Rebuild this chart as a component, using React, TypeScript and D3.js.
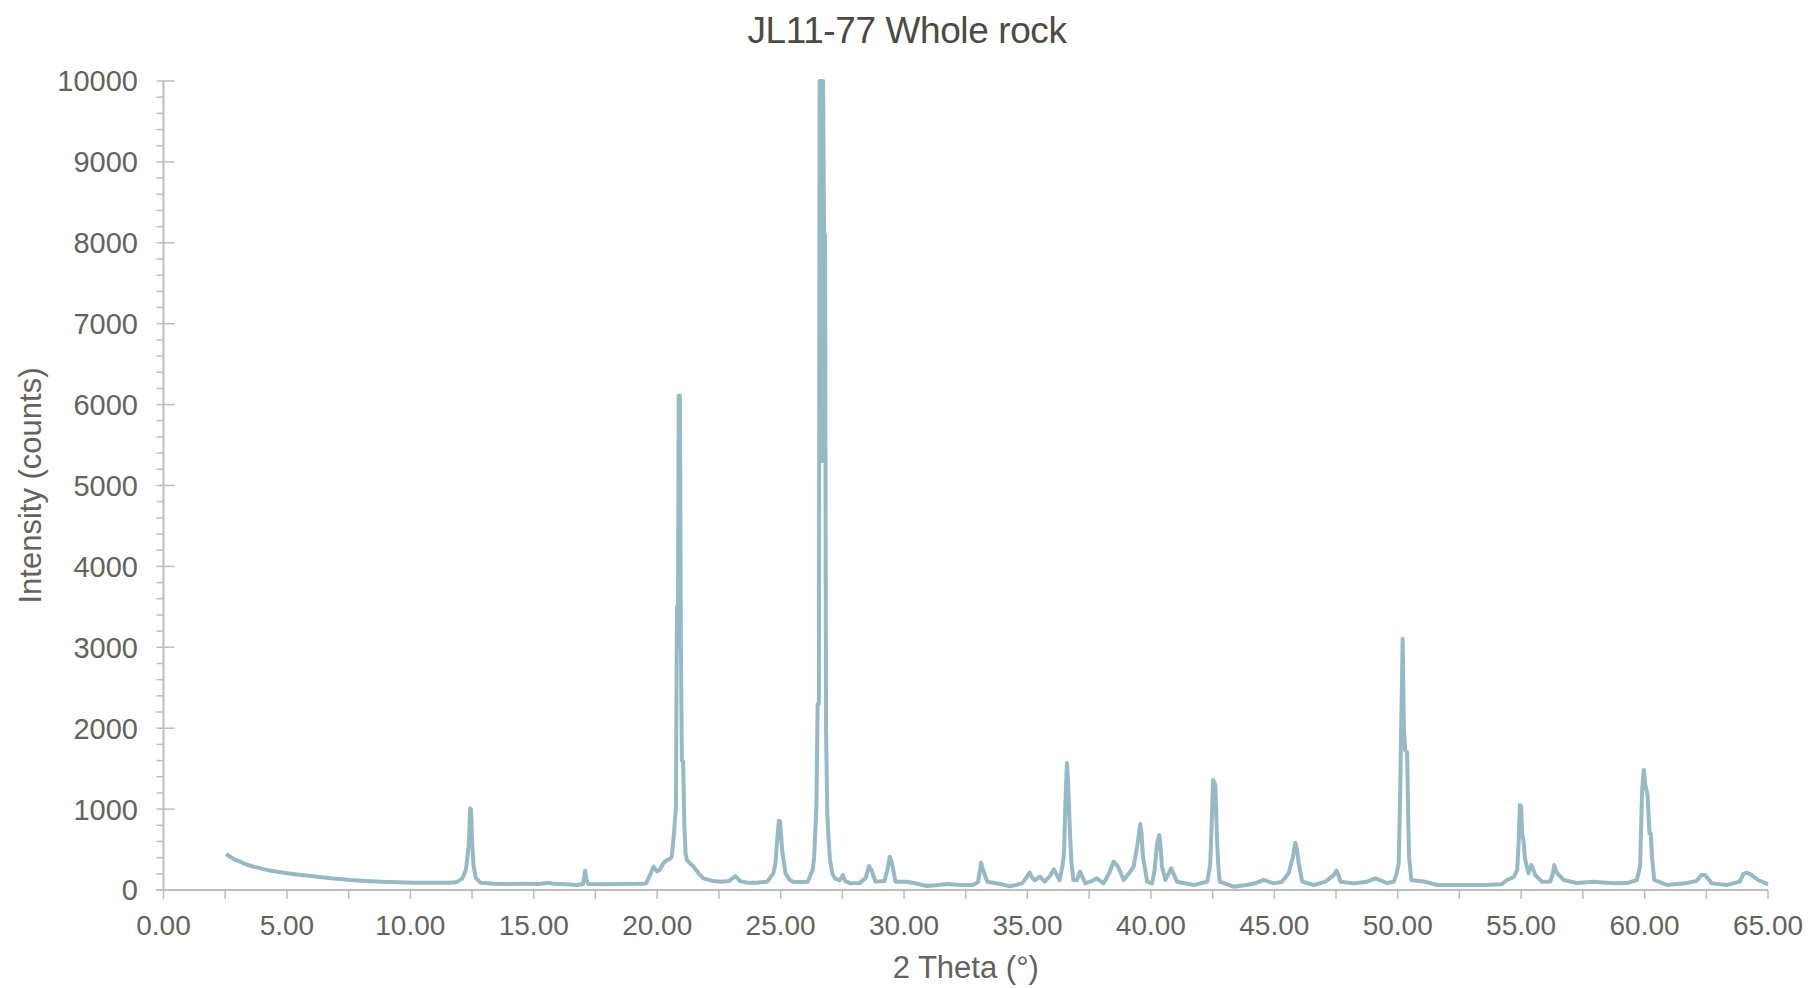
import React from 'react';
import * as d3 from 'd3';

// Diffractogram: JL11-77 whole-rock sample
const chartTitle = 'JL11-77 Whole rock';
const xAxisTitle = '2 Theta (°)';
const yAxisTitle = 'Intensity  (counts)';

const xTickValues = [0, 5, 10, 15, 20, 25, 30, 35, 40, 45, 50, 55, 60, 65];
const yTickValues = [0, 1000, 2000, 3000, 4000, 5000, 6000, 7000, 8000, 9000, 10000];

// 2θ positions (degrees)
const twoTheta = [
  2.54, 2.7, 2.9, 3.1, 3.25, 3.5, 3.93, 4.3, 4.6, 5.0, 5.5, 6.22, 6.8, 7.57, 8.2, 8.79, 9.5, 10.14, 10.8,
  11.62, 11.9, 12.1, 12.25, 12.33, 12.38, 12.42, 12.46, 12.5, 12.56, 12.65, 12.84, 13.4, 14.0, 14.6, 15.2,
  15.6, 15.8, 16.3, 16.75, 17.0, 17.08, 17.12, 17.2, 17.8, 18.5, 19.2, 19.55, 19.7, 19.85, 20.0, 20.1,
  20.25, 20.39, 20.5, 20.59, 20.68, 20.76, 20.8, 20.84, 20.87, 20.92, 20.96, 21.0, 21.05, 21.1, 21.15,
  21.2, 21.47, 21.7, 21.88, 22.2, 22.56, 22.9, 23.17, 23.35, 23.65, 24.0, 24.45, 24.7, 24.79, 24.88,
  24.93, 24.98, 25.06, 25.2, 25.35, 25.5, 25.8, 26.1, 26.3, 26.36, 26.45, 26.5, 26.55, 26.58, 26.64,
  26.68, 26.72, 26.76, 26.8, 26.84, 26.89, 26.95, 27.0, 27.1, 27.2, 27.4, 27.52, 27.62, 27.83, 28.2,
  28.45, 28.58, 28.68, 28.84, 29.2, 29.33, 29.42, 29.5, 29.65, 30.12, 30.5, 30.93, 31.3, 31.74, 32.3,
  32.8, 33.0, 33.08, 33.12, 33.2, 33.37, 33.9, 34.3, 34.78, 34.95, 35.09, 35.2, 35.3, 35.5, 35.7, 35.9,
  36.07, 36.2, 36.3, 36.42, 36.48, 36.55, 36.6, 36.65, 36.72, 36.78, 36.86, 37.0, 37.13, 37.34, 37.6,
  37.81, 38.08, 38.3, 38.49, 38.65, 38.9, 39.1, 39.3, 39.45, 39.5, 39.57, 39.62, 39.68, 39.85, 40.05,
  40.15, 40.25, 40.34, 40.4, 40.45, 40.59, 40.82, 41.06, 41.74, 42.28, 42.4, 42.44, 42.52, 42.61, 42.68,
  42.73, 42.79, 43.35, 43.89, 44.3, 44.57, 44.97, 45.3, 45.58, 45.75, 45.85, 45.92, 45.99, 46.13, 46.6,
  47.07, 47.4, 47.52, 47.6, 47.68, 48.22, 48.76, 49.1, 49.57, 49.84, 49.95, 50.04, 50.1, 50.14, 50.2,
  50.25, 50.3, 50.38, 50.43, 50.46, 50.55, 51.1, 51.6, 52.5, 53.5, 54.2, 54.43, 54.7, 54.84, 54.9, 54.95,
  55.0, 55.04, 55.1, 55.15, 55.2, 55.3, 55.41, 55.5, 55.57, 55.84, 56.18, 56.28, 56.34, 56.4, 56.47,
  56.72, 57.26, 57.93, 58.74, 59.29, 59.69, 59.82, 59.9, 59.97, 60.03, 60.12, 60.2, 60.25, 60.3, 60.39,
  60.9, 61.71, 62.1, 62.3, 62.45, 62.72, 63.32, 63.86, 64.0, 64.13, 64.25, 64.33, 64.6, 65.0,
];

// Measured intensity (counts) at each 2θ position
const counts = [
  445, 410, 375, 350, 330, 300, 268, 240, 225, 206, 188, 165, 145, 124, 112, 103, 96, 91, 90,
  91, 100, 140, 250, 450, 620, 1010, 1000, 600, 300, 150, 90, 76, 74, 76, 74,
  90, 76, 72, 62, 74, 239, 150, 74, 72, 74, 76, 80, 180, 288, 230, 250,
  330, 371, 380, 412, 700, 1030, 3500, 3000, 6110, 6110, 3000, 1600, 1586, 800, 450,
  371, 288, 200, 144, 115, 103, 110, 173, 110, 91, 90, 103, 200, 330, 700,
  857, 850, 494, 206, 130, 103, 100, 103, 250, 412, 1030, 2300, 2300, 10000, 10000,
  5300, 10000, 8100, 8100, 2000, 948, 600, 371, 200, 144, 120, 185, 110, 82, 85,
  150, 297, 250, 103, 110, 250, 412, 350, 103, 103, 80, 50, 60, 74, 62,
  62, 100, 250, 338, 250, 103, 74, 45, 82, 150, 214, 150, 120, 165, 103, 170,
  255, 180, 120, 300, 453, 1200, 1570, 1300, 721, 350, 124, 120, 228, 82, 110,
  144, 82, 200, 350, 300, 124, 200, 288, 550, 659, 816, 700, 412, 103, 82,
  250, 577, 680, 500, 288, 124, 268, 103, 62, 103, 300, 618, 1360, 1300, 618,
  300, 103, 41, 62, 90, 124, 82, 100, 206, 400, 585, 500, 330, 103, 62,
  103, 180, 239, 180, 103, 82, 103, 144, 86, 103, 200, 330, 1200, 2019, 3106,
  2000, 1730, 1700, 800, 412, 124, 103, 62, 62, 62, 70, 124, 160, 248, 600, 1051,
  1030, 700, 597, 400, 330, 206, 309, 250, 185, 103, 103, 200, 309, 250, 206,
  124, 86, 103, 82, 86, 124, 300, 1236, 1483, 1300, 1174, 700, 700, 412, 124,
  62, 86, 110, 185, 185, 82, 62, 103, 200, 214, 200, 185, 124, 70,
];

const W = 1814;
const H = 988;
const plot = { left: 163.5, right: 1768, top: 81, bottom: 890 };

const fontFamily = '"Liberation Sans", Arial, sans-serif';
const axisColor = '#bdbdbd';
const labelColor = '#63635b';
const lineColor = '#95bac6';

export default function App() {
  const x = d3.scaleLinear().domain([0, 65]).range([plot.left, plot.right]);
  const y = d3.scaleLinear().domain([0, 10000]).range([plot.bottom, plot.top]);

  const points: [number, number][] = twoTheta.map((t, i) => [t, counts[i]]);
  const line = d3
    .line<[number, number]>()
    .x((d) => x(d[0]))
    .y((d) => y(d[1]));

  const xMinor = d3.range(0, 65.001, 2.5);
  const yMinor = d3.range(0, 10001, 200).filter((v) => v % 1000 !== 0);

  return (
    <svg
      width={W}
      height={H}
      style={{ position: 'absolute', left: 0, top: 0, display: 'block', background: '#fff' }}
    >
      <defs>
        <clipPath id="plot-area">
          <rect x={plot.left} y={plot.top - 2} width={plot.right - plot.left + 4} height={plot.bottom - plot.top + 2} />
        </clipPath>
      </defs>

      <text
        x={W / 2}
        y={43}
        textAnchor="middle"
        fontFamily={fontFamily}
        fontSize={37}
        fill="#4b4b42"
        letterSpacing={-0.4}
      >
        {chartTitle}
      </text>

      {/* y axis */}
      <line x1={x(0)} x2={x(0)} y1={y(10000)} y2={plot.bottom} stroke={axisColor} strokeWidth={2} />
      {yMinor.map((v) => (
        <line key={'ym' + v} x1={x(0) - 7} x2={x(0)} y1={y(v)} y2={y(v)} stroke={axisColor} strokeWidth={1.5} />
      ))}
      {yTickValues.map((v) => (
        <g key={'yt' + v}>
          <line x1={x(0) - 7} x2={x(0) + 11} y1={y(v)} y2={y(v)} stroke={axisColor} strokeWidth={1.5} />
          <text
            x={138}
            y={y(v)}
            dy="0.36em"
            textAnchor="end"
            fontFamily={fontFamily}
            fontSize={29}
            fill={labelColor}
          >
            {v}
          </text>
        </g>
      ))}

      {/* x axis */}
      <line x1={x(0) - 7} x2={x(65)} y1={y(0)} y2={y(0)} stroke={axisColor} strokeWidth={2} />
      {xMinor.map((v) => (
        <line key={'xm' + v} x1={x(v)} x2={x(v)} y1={y(0)} y2={y(0) + 9} stroke={axisColor} strokeWidth={1.5} />
      ))}
      {xTickValues.map((v) => (
        <text
          key={'xt' + v}
          x={x(v)}
          y={935}
          textAnchor="middle"
          fontFamily={fontFamily}
          fontSize={28}
          fill={labelColor}
        >
          {v.toFixed(2)}
        </text>
      ))}

      <text
        x={(plot.left + plot.right) / 2}
        y={978}
        textAnchor="middle"
        fontFamily={fontFamily}
        fontSize={31}
        fill={labelColor}
      >
        {xAxisTitle}
      </text>
      <text
        transform={`translate(30, ${(plot.top + plot.bottom) / 2}) rotate(-90)`}
        textAnchor="middle"
        dy="0.36em"
        fontFamily={fontFamily}
        fontSize={31}
        fill={labelColor}
      >
        {yAxisTitle}
      </text>

      <path
        d={line(points) || ''}
        fill="none"
        stroke={lineColor}
        strokeWidth={4}
        strokeLinejoin="round"
        clipPath="url(#plot-area)"
      />
    </svg>
  );
}
